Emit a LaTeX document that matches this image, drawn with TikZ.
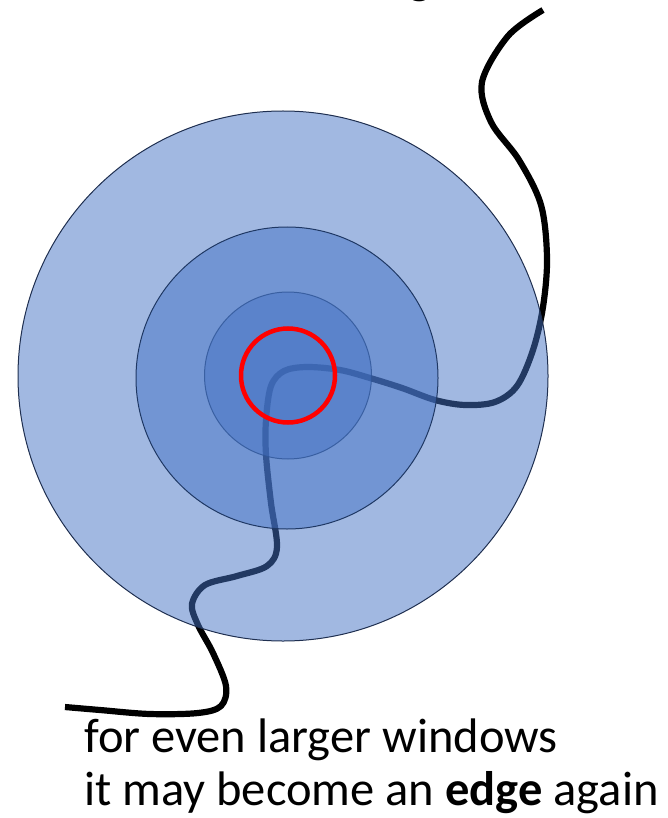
\documentclass[tikz,border=0pt]{standalone}
\usepackage{fontspec}
\setmainfont{Carlito}
\definecolor{ppblue}{HTML}{4472C4}
\definecolor{ringA}{HTML}{1F2F50}
\definecolor{ringB}{HTML}{1F3864}
\definecolor{ringC}{HTML}{2F5597}
\tikzset{
  layer/.style={circle, inner sep=0pt, fill=ppblue, fill opacity=0.5},
  wire/.style={line width=6.2pt, black, line join=round},
  caption/.style={anchor=base west, inner sep=0pt, font=\fontsize{48.5}{57}\selectfont},
}
\begin{document}
\begin{tikzpicture}[x=1pt,y=-1pt]
\useasboundingbox (0,0) rectangle (667,818);
\begin{scope}
\clip (0,0) rectangle (667,818);
% cut-off text fragments at the top edge
\node[caption] (frA) at (54,-6) {(};
\node[caption] (frB) at (408,-6) {g};
% the curve (under the semi-transparent windows)
\coordinate (ctop) at (543,10);
\coordinate (cbot) at (65,707);
\draw[wire] plot[smooth, tension=0.55] coordinates {
 (543,10) (508,36) (482,82) (491,122) (519,160) (541,205) (547,258)
 (543,307) (533,350) (517,386) (495,402) (465,405) (435,400) (402,388)
 (370,378) (340,370) (307,367) (284,371) (271,386) (266,420) (266,455)
 (271,503) (277,547) (267,566) (237,576) (205,585) (192,604) (198,625)
 (213,653) (226,686) (221,706) (198,713) (150,714) (100,710) (65,707)};
% windows
\node[layer, minimum size=530pt, draw=ringA, line width=1pt] (big) at (283,376) {};
\node[layer, minimum size=302pt, draw=ringB, line width=1pt] (mid) at (287,378) {};
\node[layer, minimum size=167pt, draw=ringC, draw opacity=0.8, line width=1pt] (small) at (288,375.5) {};
\node[layer, minimum size=98pt, fill opacity=0.3] (core) at (288,375.5) {};
\node[circle, inner sep=0pt, minimum size=94pt, draw=red, line width=4.5pt] (redc) at (288,375.5) {};
% caption
\node[caption] (l1) at (84,752) {for even larger windows};
\node[caption] (l2) at (84,805) {it may become an \textbf{edge} again};
\end{scope}
\end{tikzpicture}
\end{document}
